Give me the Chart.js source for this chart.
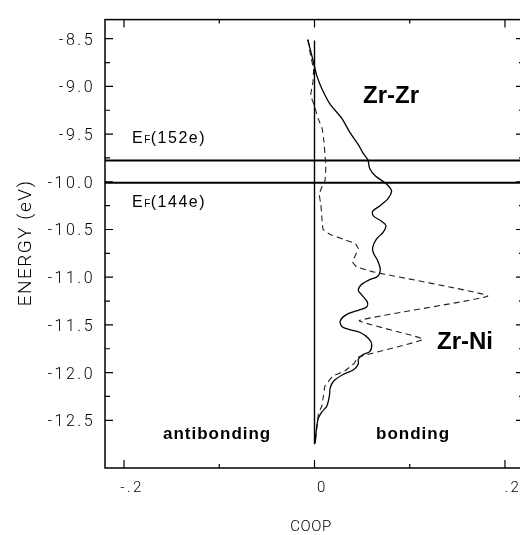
<!DOCTYPE html>
<html>
<head>
<meta charset="utf-8">
<script src="https://cdn.jsdelivr.net/npm/chart.js@4.4.1/dist/chart.umd.min.js"></script>
<style>
  html, body { margin: 0; padding: 0; background: #fff; overflow: hidden; }
  canvas { display: block; }
</style>
</head>
<body>
<canvas id="coopChart" width="530" height="535"></canvas>
<script>
"use strict";

// Zr-Zr COOP (solid line), read top to bottom
const zrZrEnergy = [-8.51, -8.75, -8.89, -9.03, -9.18, -9.34, -9.48, -9.61, -9.70, -9.77,
  -9.86, -9.94, -10.01, -10.06, -10.10, -10.18, -10.25, -10.31, -10.36, -10.41,
  -10.46, -10.53, -10.60, -10.69, -10.75, -10.82, -10.91, -10.97, -11.00, -11.03,
  -11.08, -11.14, -11.19, -11.26, -11.31, -11.34, -11.39, -11.46, -11.52, -11.55,
  -11.58, -11.64, -11.70, -11.78, -11.81, -11.86, -11.91, -11.97, -12.02, -12.09,
  -12.16, -12.24, -12.35, -12.41, -12.48, -12.59, -12.74];
const zrZrCoop = [-0.007, -0.001, 0.0025, 0.008, 0.016, 0.029, 0.037, 0.046, 0.051, 0.056,
  0.058, 0.064, 0.074, 0.079, 0.081, 0.077, 0.069, 0.061, 0.062, 0.070,
  0.075, 0.072, 0.065, 0.061, 0.062, 0.066, 0.069, 0.068, 0.065, 0.057,
  0.049, 0.046, 0.050, 0.0555, 0.055, 0.048, 0.034, 0.027, 0.029, 0.037,
  0.048, 0.0565, 0.060, 0.058, 0.051, 0.046, 0.046, 0.041, 0.030, 0.020,
  0.0165, 0.0157, 0.013, 0.008, 0.004, 0.002, 0.0007];

// Zr-Ni COOP (dashed line)
const zrNiEnergy = [-8.51, -8.68, -8.82, -8.96, -9.09, -9.20, -9.34, -9.44, -9.58, -9.72,
  -9.82, -9.99, -10.05, -10.13, -10.24, -10.37, -10.50, -10.55, -10.60, -10.65,
  -10.70, -10.77, -10.84, -10.89, -10.945, -11.197, -11.455, -11.65, -11.84, -11.90,
  -11.98, -12.04, -12.14, -12.24, -12.35, -12.43, -12.55, -12.74];
const zrNiCoop = [-0.007, -0.004, -0.001, -0.0017, -0.004, -0.0003, 0.004, 0.008, 0.010, 0.011,
  0.012, 0.011, 0.008, 0.005, 0.0067, 0.0077, 0.009, 0.016, 0.030, 0.043,
  0.046, 0.043, 0.040, 0.044, 0.062, 0.182, 0.047, 0.114, 0.045, 0.042,
  0.032, 0.019, 0.011, 0.0094, 0.0077, 0.0042, 0.0028, 0.0007];

const zeroLineEnergy = [-8.52, -12.75];
const fermiEnergies = [-9.776, -10.01];
const fermiLabels = ["(152e)", "(144e)"];

const xTicks = [-0.2, 0, 0.2];
const xTickLabels = ["-.2", "0", ".2"];
const xMinorTicks = [-0.1, 0.1];
const yTicks = [-8.5, -9.0, -9.5, -10.0, -10.5, -11.0, -11.5, -12.0, -12.5];
const yMinorTicks = [-8.75, -9.25, -9.75, -10.25, -10.75, -11.25, -11.75, -12.25];

const thin = "Roboto, 'Liberation Sans', sans-serif";
const sans = "'Liberation Sans', Arial, sans-serif";

function toPoints(xs, ys) {
  return xs.map((x, i) => ({ x: x, y: ys[i] }));
}

const fermiSets = fermiEnergies.map(e => ({
  data: [{ x: -0.22, y: e }, { x: 0.22, y: e }],
  borderColor: "#000",
  borderWidth: 2,
  pointRadius: 0,
  showLine: true
}));

// ticks inward on all four sides + frame
const frameTicks = {
  id: "frameTicks",
  beforeDraw(chart) {
    chart.ctx.letterSpacing = "2.5px";
  },
  afterDatasetsDraw(chart) {
    const ctx = chart.ctx;
    const a = chart.chartArea;
    const xs = chart.scales.x;
    const ys = chart.scales.y;
    ctx.save();
    ctx.strokeStyle = "#000";
    ctx.lineWidth = 1.5;
    ctx.strokeRect(a.left, a.top, a.right - a.left, a.bottom - a.top);
    ctx.lineWidth = 1.2;
    ctx.beginPath();
    const xt = (v, len) => {
      const p = xs.getPixelForValue(v);
      ctx.moveTo(p, a.bottom); ctx.lineTo(p, a.bottom - len);
      ctx.moveTo(p, a.top); ctx.lineTo(p, a.top + len);
    };
    const yt = (v, len) => {
      const p = ys.getPixelForValue(v);
      ctx.moveTo(a.left, p); ctx.lineTo(a.left + len, p);
      ctx.moveTo(a.right, p); ctx.lineTo(a.right - len, p);
    };
    xTicks.forEach(v => xt(v, 8));
    xMinorTicks.forEach(v => xt(v, 4));
    yTicks.forEach(v => yt(v, 8));
    yMinorTicks.forEach(v => yt(v, 5));
    ctx.stroke();
    ctx.restore();
  },
  afterDraw(chart) {
    const ctx = chart.ctx;
    const ys = chart.scales.y;
    ctx.save();
    ctx.fillStyle = "#000";
    ctx.textBaseline = "alphabetic";
    ctx.textAlign = "left";

    // axis titles
    ctx.letterSpacing = "1.5px";
    ctx.font = "300 19px " + thin;
    ctx.save();
    ctx.translate(31, 243);
    ctx.rotate(-Math.PI / 2);
    ctx.textAlign = "center";
    ctx.fillText("ENERGY (eV)", 0, 0);
    ctx.restore();
    ctx.letterSpacing = "0.5px";
    ctx.font = "300 15px " + thin;
    ctx.textAlign = "center";
    ctx.fillText("COOP", 311, 531);
    ctx.textAlign = "left";

    // Fermi level labels
    const offs = [-17.5, 24.5];
    fermiEnergies.forEach((e, i) => {
      const base = ys.getPixelForValue(e) + offs[i];
      let x = 132;
      ctx.letterSpacing = "1.5px";
      ctx.font = "16px " + sans;
      ctx.fillText("E", x, base);
      x += ctx.measureText("E").width;
      ctx.letterSpacing = "0px";
      ctx.font = "10px " + sans;
      ctx.fillText("F", x, base);
      x += ctx.measureText("F").width + 0.5;
      ctx.letterSpacing = "1.5px";
      ctx.font = "16px " + sans;
      ctx.fillText(fermiLabels[i], x, base);
    });

    ctx.letterSpacing = "0px";
    ctx.font = "bold 24px " + sans;
    ctx.fillText("Zr-Zr", 363, 103);
    ctx.fillText("Zr-Ni", 437, 349);

    ctx.letterSpacing = "1px";
    ctx.font = "bold 17px " + sans;
    ctx.fillText("antibonding", 163, 439);
    ctx.fillText("bonding", 376, 439);
    ctx.restore();
  }
};

new Chart(document.getElementById("coopChart"), {
  type: "scatter",
  data: {
    datasets: [
      {
        label: "Zr-Zr",
        data: toPoints(zrZrCoop, zrZrEnergy),
        borderColor: "#000",
        borderWidth: 1.3,
        pointRadius: 0,
        showLine: true,
        tension: 0.3
      },
      {
        label: "Zr-Ni",
        data: toPoints(zrNiCoop, zrNiEnergy),
        borderColor: "#222",
        borderWidth: 1.1,
        borderDash: [6, 4],
        pointRadius: 0,
        showLine: true,
        tension: 0.1
      },
      {
        label: "zero",
        data: zeroLineEnergy.map(e => ({ x: 0, y: e })),
        borderColor: "#000",
        borderWidth: 1.4,
        pointRadius: 0,
        showLine: true
      },
      ...fermiSets
    ]
  },
  options: {
    responsive: false,
    animation: false,
    events: [],
    layout: { padding: { left: 0, right: 6, top: 16, bottom: 0 } },
    plugins: {
      legend: { display: false },
      tooltip: { enabled: false }
    },
    scales: {
      x: {
        type: "linear",
        min: -0.22,
        max: 0.22,
        grid: { display: false, drawTicks: false },
        border: { display: false },
        afterBuildTicks: s => { s.ticks = xTicks.map(v => ({ value: v })); },
        afterFit: s => { s.height = 67; },
        ticks: {
          color: "#000",
          padding: 11,
          labelOffset: 8,
          maxRotation: 0,
          font: { family: thin, size: 15, weight: 300 },
          callback: (v) => xTickLabels[xTicks.indexOf(v)]
        }
      },
      y: {
        type: "linear",
        min: -13.0,
        max: -8.3,
        grid: { display: false, drawTicks: false },
        border: { display: false },
        afterBuildTicks: s => { s.ticks = yTicks.map(v => ({ value: v })); },
        afterFit: s => { s.width = 105; },
        ticks: {
          color: "#000",
          padding: 10,
          labelOffset: 2,
          font: { family: thin, size: 16, weight: 300 },
          callback: (v) => v.toFixed(1)
        }
      }
    }
  },
  plugins: [frameTicks]
});
</script>
</body>
</html>
